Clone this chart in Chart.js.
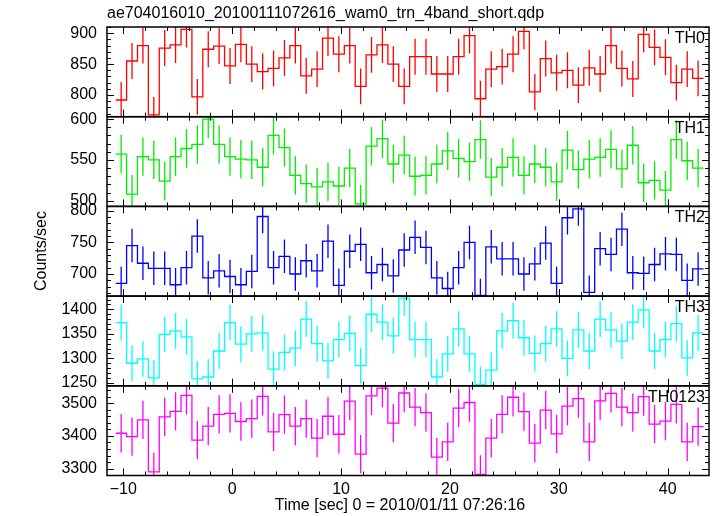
<!DOCTYPE html>
<html>
<head>
<meta charset="utf-8">
<script src="https://cdn.jsdelivr.net/npm/chart.js"></script>
<style>
  html, body { margin: 0; padding: 0; background: #fff; }
</style>
</head>
<body>
<canvas id="lc" width="717" height="516"></canvas>
<script>
// 1 s bins, first bin runs from -10.7 s
const binStart = -10.7;
const binWidth = 1;

const th0 = [792, 855, 880, 768, 876, 881, 906, 797, 874, 879, 847, 882, 850, 838, 843, 860, 880, 831,
  842, 892, 866, 880, 814, 865, 881, 850, 814, 862, 862, 834, 834, 862, 896, 794, 842, 846,
  866, 903, 805, 859, 836, 840, 816, 844, 834, 880, 843, 826, 898, 877, 861, 820, 842, 827];
const th1 = [557, 508, 554, 550, 524, 554, 564, 569, 600, 569, 554, 551, 550, 541, 580, 565, 531, 521,
  517, 523, 518, 540, 496, 567, 576, 545, 556, 530, 531, 545, 561, 552, 548, 575, 529, 541,
  553, 531, 545, 541, 523, 562, 538, 551, 553, 563, 539, 568, 522, 525, 513, 575, 549, 540];
const th2 = [685, 745, 717, 709, 709, 683, 710, 760, 694, 705, 696, 683, 704, 791, 710, 728, 700, 721,
  705, 752, 682, 736, 747, 702, 715, 697, 738, 758, 742, 694, 677, 710, 750, 666, 743, 724,
  724, 700, 716, 749, 685, 789, 803, 671, 740, 731, 771, 702, 701, 715, 732, 731, 690, 708];
const th3 = [1373, 1290, 1299, 1260, 1349, 1356, 1344, 1258, 1262, 1315, 1373, 1329, 1350, 1352, 1278, 1312, 1321, 1380,
  1330, 1295, 1338, 1351, 1285, 1390, 1374, 1346, 1423, 1338, 1338, 1262, 1309, 1360, 1309, 1247, 1276, 1356,
  1377, 1342, 1310, 1330, 1360, 1300, 1358, 1315, 1380, 1358, 1335, 1374, 1399, 1315, 1338, 1371, 1301, 1352];
const th0123 = [3408, 3398, 3449, 3290, 3458, 3475, 3524, 3387, 3430, 3466, 3469, 3444, 3453, 3521, 3412, 3465, 3430, 3453,
  3393, 3460, 3405, 3506, 3344, 3522, 3546, 3439, 3531, 3488, 3471, 3335, 3382, 3485, 3502, 3282, 3393, 3466,
  3518, 3474, 3378, 3479, 3406, 3491, 3514, 3382, 3507, 3530, 3488, 3471, 3520, 3436, 3445, 3496, 3382, 3428];

const panelNames = ['TH0', 'TH1', 'TH2', 'TH3', 'TH0123'];
const panelErr = [29, 23.5, 26.5, 36.5, 58.5];
const yMin = [765, 493, 665, 1244, 3279];
const yMax = [910, 603, 807, 1427, 3553];
const yStep = [50, 50, 50, 50, 100];
const yMinor = [10, 10, 10, 10, 20];
const xTicks = [-10, 0, 10, 20, 30, 40];

const series = [th0, th1, th2, th3, th0123];
const colors = ['#ff0000', '#00ee00', '#0000ff', '#00ffff', '#ff00ff'];
const FONT = '"Liberation Sans", Arial, sans-serif';

function stepPoints(vals) {
  const pts = vals.map((v, i) => ({x: binStart + i * binWidth, y: v}));
  pts.push({x: binStart + vals.length * binWidth, y: vals[vals.length - 1]});
  return pts;
}

function errPoints(vals, err) {
  const pts = [];
  vals.forEach((v, i) => {
    const c = binStart + (i + 0.5) * binWidth;
    pts.push({x: c, y: v - err}, {x: c, y: v + err}, {x: c, y: null});
  });
  return pts;
}

const datasets = [];
series.forEach((vals, k) => {
  datasets.push({
    data: stepPoints(vals), yAxisID: 'y' + k, stepped: true,
    borderColor: colors[k], borderWidth: 1.3, pointRadius: 0, clip: 0
  });
  datasets.push({
    data: errPoints(vals, panelErr[k]), yAxisID: 'y' + k, spanGaps: false,
    borderColor: colors[k], borderWidth: 1.3, pointRadius: 0, clip: 0
  });
});

const scales = {
  x: {
    type: 'linear', min: -11.5, max: 43.8,
    grid: {display: false, drawTicks: false}, border: {display: false},
    ticks: {
      autoSkip: false, maxRotation: 0, padding: 4, color: '#000',
      font: {size: 16, family: FONT},
      callback: v => String(v).replace('-', '\u2212')
    },
    afterBuildTicks: s => { s.ticks = xTicks.map(v => ({value: v})); },
    afterFit: s => { s.height = 40.5; }
  }
};
panelNames.forEach((n, k) => {
  scales['y' + k] = {
    type: 'linear', position: 'left', stack: 'panels', stackWeight: 1, weight: 5 - k,
    min: yMin[k], max: yMax[k],
    grid: {display: false, drawTicks: false}, border: {display: false},
    ticks: {
      stepSize: yStep[k], includeBounds: false, autoSkip: false, padding: 10,
      color: '#000', font: {size: 16, family: FONT},
      callback: v => String(v)
    },
    afterFit: s => { s.width = 107; }
  };
});

// frames, inward ticks, panel names and axis titles
const panelFrames = {
  id: 'panelFrames',
  afterDatasetsDraw(chart) {
    const ctx = chart.ctx;
    const xs = chart.scales.x;
    const left = xs.left, right = xs.right;
    ctx.save();
    ctx.strokeStyle = '#000';
    ctx.fillStyle = '#000';
    panelNames.forEach((name, k) => {
      const ys = chart.scales['y' + k];
      const top = ys.top, bottom = ys.bottom;
      ctx.lineWidth = 1;
      ctx.beginPath();
      for (let t = -10; t <= 42; t += 2) {
        const px = Math.round(xs.getPixelForValue(t)) + 0.5;
        const len = t % 10 === 0 ? 7 : 4;
        ctx.moveTo(px, top); ctx.lineTo(px, top + len);
        ctx.moveTo(px, bottom); ctx.lineTo(px, bottom - len);
      }
      const first = Math.ceil(yMin[k] / yMinor[k]) * yMinor[k];
      for (let v = first; v <= yMax[k]; v += yMinor[k]) {
        const py = Math.round(ys.getPixelForValue(v)) + 0.5;
        const len = v % yStep[k] === 0 ? 7 : 4;
        ctx.moveTo(left, py); ctx.lineTo(left + len, py);
        ctx.moveTo(right, py); ctx.lineTo(right - len, py);
      }
      ctx.stroke();
      ctx.lineWidth = 1.5;
      ctx.strokeRect(left, top, right - left, bottom - top);
      ctx.font = '16px ' + FONT;
      ctx.textAlign = 'right';
      ctx.textBaseline = 'alphabetic';
      ctx.fillText(name, right - 4, top + 16);
    });
    ctx.font = '16px ' + FONT;
    ctx.textAlign = 'center';
    ctx.textBaseline = 'middle';
    ctx.fillText('Time [sec] 0 = 2010/01/11 07:26:16', 400, 506);
    ctx.translate(42, 251);
    ctx.rotate(-Math.PI / 2);
    ctx.fillText('Counts/sec', 0, 0);
    ctx.restore();
  }
};

new Chart(document.getElementById('lc'), {
  type: 'line',
  data: {datasets: datasets},
  options: {
    responsive: false,
    animation: false,
    devicePixelRatio: 1,
    layout: {padding: {left: 0, right: 8, top: 0, bottom: 0}},
    plugins: {
      legend: {display: false},
      tooltip: {enabled: false},
      title: {
        display: true, fullSize: false, align: 'start', color: '#000',
        text: 'ae704016010_20100111072616_wam0_trn_4band_short.qdp',
        font: {size: 16, family: FONT, weight: 'normal', lineHeight: 1},
        padding: {top: 6, bottom: 5}
      }
    },
    scales: scales
  },
  plugins: [panelFrames]
});
</script>
</body>
</html>
